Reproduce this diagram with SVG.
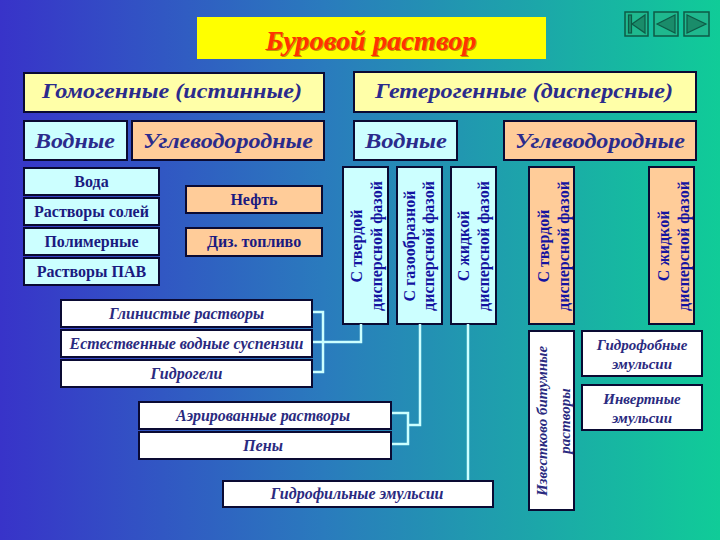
<svg xmlns="http://www.w3.org/2000/svg" width="720" height="540" viewBox="0 0 720 540">
<defs>
<linearGradient id="bg" x1="0" y1="0" x2="1" y2="0">
<stop offset="0" stop-color="#3833c9"/>
<stop offset="0.45" stop-color="#2a7bbd"/>
<stop offset="1" stop-color="#10cc98"/>
</linearGradient>
<style>
.box{stroke:#0a0a33;stroke-width:2}
.yel{fill:#ffffa8}
.cy{fill:#ccffff}
.pe{fill:#ffcc99}
.wh{fill:#ffffff}
.hd{font-family:"Liberation Serif",serif;font-style:italic;font-weight:bold;font-size:22px;fill:#2b2b8c;text-anchor:middle}
.ls{font-family:"Liberation Serif",serif;font-weight:bold;font-size:16px;fill:#1a1a80;text-anchor:middle}
.vt{font-family:"Liberation Serif",serif;font-weight:bold;font-size:16px;fill:#1414a0;text-anchor:middle}
.it{font-family:"Liberation Serif",serif;font-style:italic;font-weight:bold;font-size:16px;fill:#2a2a80;text-anchor:middle}
.it2{font-family:"Liberation Serif",serif;font-style:italic;font-weight:bold;font-size:15px;fill:#2a2a80;text-anchor:middle}
.ln{fill:none;stroke:#ccffff;stroke-width:2.5}
.nb{fill:#1fb88e;stroke:#0e5a46;stroke-width:1.5}
.nt{fill:#1a8c6a;stroke:#0e5a46;stroke-width:1.2}
</style>
</defs>
<rect width="720" height="540" fill="url(#bg)"/>

<g id="nav">
<rect class="nb" x="625" y="12" width="23" height="24"/>
<rect class="nt" x="628.5" y="15" width="3" height="18"/>
<polygon class="nt" points="632,24 645,15 645,33"/>
<rect class="nb" x="654" y="12" width="24" height="24"/>
<polygon class="nt" points="657,24 675,15 675,33"/>
<rect class="nb" x="684" y="12" width="25" height="24"/>
<polygon class="nt" points="706,24 687,15 687,33"/>
</g>

<g id="title">
<rect x="197" y="17" width="349" height="42" fill="#ffff00"/>
<text x="372" y="51" font-family="Liberation Serif,serif" font-style="italic" font-weight="bold" font-size="27" fill="#7a1a00" text-anchor="middle" textLength="211" lengthAdjust="spacingAndGlyphs" opacity="0.45">Буровой раствор</text>
<text x="371" y="50" font-family="Liberation Serif,serif" font-style="italic" font-weight="bold" font-size="27" fill="#ff3300" text-anchor="middle" textLength="211" lengthAdjust="spacingAndGlyphs">Буровой раствор</text>
</g>

<g id="homo"><rect class="box yel" x="24" y="73" width="300" height="39"/><text class="hd" x="172" y="98" textLength="260" lengthAdjust="spacingAndGlyphs">Гомогенные (истинные)</text></g>
<g id="hetero"><rect class="box yel" x="354" y="72" width="342" height="40"/><text class="hd" x="524" y="98" textLength="298" lengthAdjust="spacingAndGlyphs">Гетерогенные (дисперсные)</text></g>

<g id="homo-water"><rect class="box cy" x="24" y="121" width="103" height="39"/><text class="hd" x="75" y="148" textLength="80" lengthAdjust="spacingAndGlyphs">Водные</text></g>
<g id="homo-hc"><rect class="box pe" x="132" y="121" width="192" height="39"/><text class="hd" x="228" y="148" textLength="170" lengthAdjust="spacingAndGlyphs">Углеводородные</text></g>
<g id="het-water"><rect class="box cy" x="354" y="121" width="103" height="39"/><text class="hd" x="406" y="148" textLength="82" lengthAdjust="spacingAndGlyphs">Водные</text></g>
<g id="het-hc"><rect class="box pe" x="504" y="121" width="192" height="39"/><text class="hd" x="600" y="148" textLength="170" lengthAdjust="spacingAndGlyphs">Углеводородные</text></g>

<g id="voda"><rect class="box cy" x="24" y="168" width="135" height="27"/><text class="ls" x="91.5" y="187">Вода</text></g>
<g id="soli"><rect class="box cy" x="24" y="198" width="135" height="27"/><text class="ls" x="91.5" y="217">Растворы солей</text></g>
<g id="polim"><rect class="box cy" x="24" y="228" width="135" height="27"/><text class="ls" x="91.5" y="247">Полимерные</text></g>
<g id="pav"><rect class="box cy" x="24" y="258" width="135" height="27"/><text class="ls" x="91.5" y="277">Растворы ПАВ</text></g>

<g id="neft"><rect class="box pe" x="186" y="186" width="136" height="27"/><text class="ls" x="254" y="205">Нефть</text></g>
<g id="diz"><rect class="box pe" x="186" y="228" width="136" height="28"/><text class="ls" x="254" y="247">Диз. топливо</text></g>

<g id="v-solid"><rect class="box cy" x="343" y="167" width="45" height="157"/>
<text class="vt" transform="translate(362,246) rotate(-90)">С твердой</text>
<text class="vt" transform="translate(382,246) rotate(-90)">дисперсной фазой</text></g>
<g id="v-gas"><rect class="box cy" x="397" y="167" width="45" height="157"/>
<text class="vt" transform="translate(415,246) rotate(-90)">С газообразной</text>
<text class="vt" transform="translate(434,246) rotate(-90)">дисперсной фазой</text></g>
<g id="v-liq"><rect class="box cy" x="451" y="167" width="45" height="157"/>
<text class="vt" transform="translate(468.5,246) rotate(-90)">С жидкой</text>
<text class="vt" transform="translate(488.5,246) rotate(-90)">дисперсной фазой</text></g>
<g id="v-hc-solid"><rect class="box pe" x="529" y="167" width="45" height="157"/>
<text class="vt" transform="translate(548.5,246) rotate(-90)">С твердой</text>
<text class="vt" transform="translate(568.5,246) rotate(-90)">дисперсной фазой</text></g>
<g id="v-hc-liq"><rect class="box pe" x="649" y="167" width="45" height="157"/>
<text class="vt" transform="translate(668.5,246) rotate(-90)">С жидкой</text>
<text class="vt" transform="translate(688.5,246) rotate(-90)">дисперсной фазой</text></g>

<g id="connectors">
<polyline class="ln" points="312,312 323,312 323,372 312,372"/>
<polyline class="ln" points="312,342 361,342 361,324"/>
<polyline class="ln" points="391,413 408,413 408,444 391,444"/>
<polyline class="ln" points="408,425 420,425 420,324"/>
<polyline class="ln" points="468,324 468,481"/>
</g>

<g id="glin"><rect class="box wh" x="61" y="300" width="251" height="27"/><text class="it" x="186.5" y="319" textLength="155" lengthAdjust="spacingAndGlyphs">Глинистые растворы</text></g>
<g id="estestv"><rect class="box wh" x="61" y="330" width="251" height="27"/><text class="it" x="186.5" y="349" textLength="234" lengthAdjust="spacingAndGlyphs">Естественные водные суспензии</text></g>
<g id="gidrogeli"><rect class="box wh" x="61" y="360" width="251" height="27"/><text class="it" x="186.5" y="379" textLength="72" lengthAdjust="spacingAndGlyphs">Гидрогели</text></g>
<g id="aer"><rect class="box wh" x="139" y="402" width="252" height="27"/><text class="it" x="263" y="421" textLength="174" lengthAdjust="spacingAndGlyphs">Аэрированные растворы</text></g>
<g id="peny"><rect class="box wh" x="139" y="432" width="252" height="27"/><text class="it" x="263" y="451" textLength="40" lengthAdjust="spacingAndGlyphs">Пены</text></g>
<g id="gidrofil"><rect class="box wh" x="223" y="481" width="270" height="26"/><text class="it" x="357" y="499" textLength="173" lengthAdjust="spacingAndGlyphs">Гидрофильные эмульсии</text></g>

<g id="izvest"><rect class="box wh" x="529" y="331" width="45" height="179"/>
<text class="it2" transform="translate(547,421) rotate(-90)">Известково битумные</text>
<text class="it2" transform="translate(570,421) rotate(-90)">растворы</text></g>
<g id="gidrofob"><rect class="box wh" x="582" y="331" width="120" height="45"/>
<text class="it2" x="642" y="350">Гидрофобные</text>
<text class="it2" x="642" y="369">эмульсии</text></g>
<g id="invert"><rect class="box wh" x="582" y="385" width="120" height="45"/>
<text class="it2" x="642" y="404">Инвертные</text>
<text class="it2" x="642" y="423">эмульсии</text></g>
</svg>
